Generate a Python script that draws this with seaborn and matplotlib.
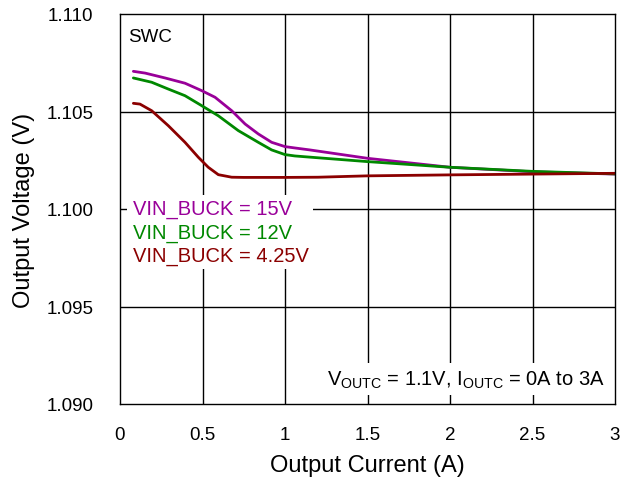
import numpy as np
import pandas as pd
import matplotlib
matplotlib.use("Agg")
import matplotlib.pyplot as plt
from matplotlib.patches import Rectangle
import seaborn as sns

# Data
current_15v = [0.081, 0.152, 0.273, 0.394, 0.495, 0.576, 0.677, 0.758, 0.838, 0.919, 1.0, 1.06, 1.15, 1.5, 2.0, 2.5, 3.0]
vout_15v = [1.10706, 1.10697, 1.10672, 1.10645, 1.10607, 1.10573, 1.10504, 1.10436, 1.10385, 1.10342, 1.10320, 1.10313, 1.10303, 1.10260, 1.10214, 1.10191, 1.10179]

current_12v = [0.081, 0.192, 0.293, 0.394, 0.495, 0.596, 0.717, 0.838, 0.919, 1.0, 1.06, 1.15, 1.5, 2.0, 2.5, 3.0]
vout_12v = [1.10672, 1.10650, 1.10615, 1.10581, 1.10530, 1.10478, 1.10402, 1.10342, 1.10303, 1.10279, 1.10272, 1.10266, 1.10243, 1.10214, 1.10193, 1.10180]

current_425v = [0.081, 0.121, 0.192, 0.293, 0.394, 0.475, 0.535, 0.596, 0.677, 0.75, 1.0, 1.2, 1.5, 2.0, 2.5, 3.0]
vout_425v = [1.10542, 1.10538, 1.10504, 1.10427, 1.10342, 1.10265, 1.10214, 1.10176, 1.10163, 1.10162, 1.10162, 1.10163, 1.10170, 1.10175, 1.10179, 1.10183]

series_labels = ["VIN_BUCK = 15V", "VIN_BUCK = 12V", "VIN_BUCK = 4.25V"]
series_colors = ["#990099", "#008800", "#8B0000"]

x_ticks = [0, 0.5, 1, 1.5, 2, 2.5, 3]
x_tick_labels = ["0", "0.5", "1", "1.5", "2", "2.5", "3"]
y_ticks = [1.090, 1.095, 1.100, 1.105, 1.110]
y_tick_labels = ["1.090", "1.095", "1.100", "1.105", "1.110"]

df = pd.concat([
    pd.DataFrame({"I": current_15v, "V": vout_15v, "s": series_labels[0]}),
    pd.DataFrame({"I": current_12v, "V": vout_12v, "s": series_labels[1]}),
    pd.DataFrame({"I": current_425v, "V": vout_425v, "s": series_labels[2]}),
], ignore_index=True)

sns.set_theme(style="white")
plt.rcParams["font.family"] = ["Liberation Sans", "DejaVu Sans"]

fig = plt.figure(figsize=(6.22, 4.85), dpi=100)
ax = fig.add_axes([120/622, 1 - 405/485, 495/622, 390/485])

for v in x_ticks[1:-1]:
    ax.axvline(v, color="black", lw=1.0, zorder=1)
for v in y_ticks[1:-1]:
    ax.axhline(v, color="black", lw=1.0, zorder=1)

sns.lineplot(data=df, x="I", y="V", hue="s", palette=series_colors,
             hue_order=series_labels, linewidth=2.0, legend=False, ax=ax,
             sort=True, estimator=None, zorder=3)

ax.set_xlim(0, 3)
ax.set_ylim(1.090, 1.110)
ax.set_xticks(x_ticks)
ax.set_xticklabels(x_tick_labels)
ax.set_yticks(y_ticks)
ax.set_yticklabels(y_tick_labels)
ax.tick_params(axis="both", direction="in", length=0, width=1, colors="black",
               labelsize=13.5, bottom=True, left=True)
ax.tick_params(axis="x", pad=16)
ax.tick_params(axis="y", pad=19)
for sp in ax.spines.values():
    sp.set_color("black")
    sp.set_linewidth(1.0)
    sp.set_zorder(6)

ax.set_xlabel("Output Current (A)", fontsize=17, color="black", labelpad=8)
ax.set_ylabel("Output Voltage (V)", fontsize=17, color="black", labelpad=8)

ax.text(0.048, 1.10885, "SWC", fontsize=13.5, color="black", va="center", ha="left", zorder=5)

# white backdrop behind the series labels
ax.add_patch(Rectangle((7/495, (405-270)/390), (313-127)/495, 74/390,
                       transform=ax.transAxes, facecolor="white", edgecolor="none", zorder=4))
ys = [1.10, 1.0988, 1.0976]
for lbl, col, yv in zip(series_labels, series_colors, ys):
    ax.text(0.078, yv, lbl, fontsize=14.5, color=col, va="center", ha="left", zorder=5)

ax.text(2.94, 1.09128, r"V$_{\mathregular{OUTC}}$ = 1.1V, I$_{\mathregular{OUTC}}$ = 0A to 3A",
        fontsize=14.5, color="black", va="center", ha="right", zorder=5,
        bbox=dict(facecolor="white", edgecolor="none", pad=4))

fig.savefig("out.png", dpi=100)
